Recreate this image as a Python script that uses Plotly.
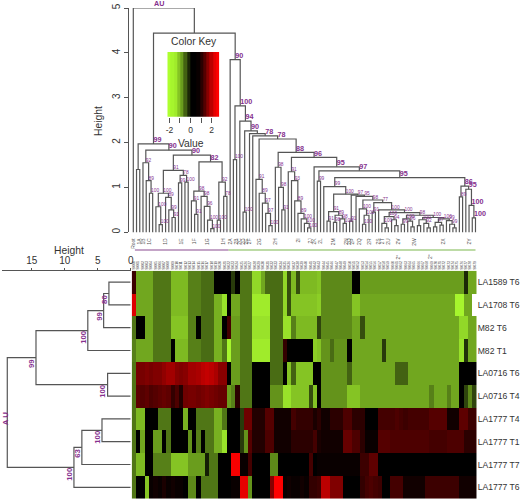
import plotly.graph_objects as go

W, H = 520, 500
FONT = "Liberation Sans"
PURPLE = "#85308E"
LINE = "#555555"

samples = ["LA1589 T6", "LA1708 T6", "M82 T6", "M82 T1", "LA0716 T6",
           "LA0716 T4", "LA1777 T4", "LA1777 T1", "LA1777 T7", "LA1777 T6"]

row_la1589_t6 = [.7,-1.7,-1.7,-1.7,-1.7,-1.2,-1.2,-1.2,-1.2,-1.9,-1.9,-1.9,-1.9,-1.3,-1.3,-1.3,-1.1,-1.1,-1.1,0,0,0,0,-.6,0,-1.2,-1.2,-1.2,-2.2,-2.2,-1.7,-1.1,-1.1,-1.1,-1.1,-2.2,-.8,-1.9,-.8,-1.9,-1.9,-1.9,-1.9,
                 -2.0,-1.4,-1.4,-1.4,-1.4,-1.4,-1.4,-1.4,0,0,-1.6,-1.6,-1.6,-1.6,-1.6,-1.6,-1.6,-1.6,-1.6,-1.6,-1.6,-1.6,-1.6,-1.6,-1.6,-1.6,-1.6,-1.6,-1.6,-1.6,-1.6,-1.6,-1.6,-1.6,-.4,-1.7,-1.7]
row_la1708_t6 = [2.6,-1.7,-1.7,-1.7,-1.7,-1.2,-1.2,-1.2,-1.2,-1.9,-1.9,-1.9,-1.9,-1.3,-1.3,-1.3,-1.1,-1.1,-1.1,-1.8,-1.8,-2.3,0,-1.7,-1.7,-1.2,-1.2,-1.2,-2.4,-2.4,-2.4,-2.4,-1.1,-1.1,-1.1,-2.2,-.8,-2.0,-2.0,-2.0,-2.0,-2.0,-2.0,
                 -2.1,-1.4,-1.4,-1.4,-1.4,-1.4,-1.4,-1.4,-2.0,-2.0,-1.7,-1.7,-1.7,-1.7,-1.7,-1.7,-1.7,-1.7,-1.7,-1.7,-1.7,-1.7,-1.7,-1.7,-1.7,-1.7,-1.7,-1.7,-1.7,-1.7,-1.7,-1.7,-2.5,-2.5,-1.7,-1.7]
row_m82_t6 = [-1.2,0,0,-1.7,-1.7,-1.2,-1.2,-1.2,-1.2,-2.0,-2.0,-2.0,-2.0,-1.3,-1.3,0,-1.1,-1.1,-1.1,-1.8,-1.8,0,.8,-1.6,-1.6,-1.2,-1.2,-1.2,-2.3,-2.3,-2.3,-2.3,-1.1,-1.1,-1.1,-2.3,-2.3,-1.3,-1.9,-1.9,-1.9,-1.9,-1.9,
              -.7,-1.4,-1.4,-1.4,-1.4,-1.4,-1.4,-1.4,-1.7,-1.7,-.8,-1.7,-1.7,-1.7,-1.7,-1.7,-1.7,-1.7,-1.7,-1.7,-1.7,-1.7,-1.7,-1.7,-1.7,-1.7,-1.7,-1.7,-1.7,-1.7,-1.7,-1.7,-1.7,-2.2,-2.2,-1.7,-1.7]
row_m82_t1 = [-1.3,-1.7,-1.7,-1.7,-1.7,-1.2,-1.2,-1.2,-1.2,0,-1.9,-1.9,-1.9,-1.3,-1.3,-1.3,-1.1,-1.1,-1.1,-1.8,-1.8,-1.2,-2.5,-1.6,-1.6,-1.2,-1.2,-1.2,-2.4,-2.4,-2.4,-2.4,-1.1,-1.1,-1.1,.6,0,0,0,0,0,0,-2.1,
              -2.0,-1.5,-1.5,-1.1,-1.5,-1.5,-1.5,0,-1.7,-1.7,-1.7,-1.7,-1.7,-1.7,-1.7,-.6,-1.7,-1.7,-1.7,-1.7,-1.7,-1.7,-1.7,-1.7,-1.7,-1.7,-1.7,-1.7,-1.7,-1.7,-1.7,-1.7,-1.7,-2.3,-.5,-1.7,-1.7]
row_la0716_t6 = [-1.2,1.4,1.4,1.5,1.4,1.5,1.5,1.7,1.9,1.9,1.6,1.5,1.6,1.9,1.9,2.0,2.2,2.3,2.2,2.0,1.6,1.6,0,-1.6,-1.6,-1.2,-1.2,-1.2,0,0,0,0,-1.1,-1.1,-1.1,0,-2.0,-1.0,-2.0,-2.0,-2.0,-2.0,0,
                 0,-1.5,-1.5,-1.5,-1.5,-1.5,-1.5,-1.0,-1.7,-1.7,-1.7,-1.7,-1.7,-1.7,-1.7,-1.7,-1.7,-1.7,-1.0,-1.0,-1.0,-1.7,-1.7,-1.7,-1.7,-1.7,-1.7,-1.7,-1.7,-1.7,-1.7,-1.7,-1.7,0,0,0,0]
row_la0716_t4 = [-1.2,1.1,1.0,1.1,.9,1.0,1.1,1.2,1.1,.6,.9,.4,1.3,1.4,1.4,1.3,1.4,1.5,1.4,1.3,1.2,1.2,-1.6,-1.3,.5,-1.2,-1.2,-1.2,0,0,0,0,-1.5,-1.5,-1.5,-2.3,-2.3,-2.0,-2.0,-2.0,-2.0,-.8,-2.0,
                 0,-1.5,-1.5,-1.5,-1.5,-1.5,-1.5,-2.0,-2.0,-2.0,-1.7,-1.7,-1.7,-1.7,-1.7,-1.7,-1.7,-1.7,-1.7,-1.7,-1.7,-1.7,-1.7,-1.7,-1.7,-1.7,-1.3,-1.7,-1.7,-1.7,-1.3,-1.7,-1.7,0,-.7,-1.4,-.7]
row_la1777_t4 = [-1.2,-1.9,-1.9,0,0,0,-1.2,-1.2,-1.2,0,0,0,-1.8,0,0,-1.2,-1.2,-1.2,-1.2,-1.8,-1.8,-1.2,0,0,0,-.6,1.3,1.3,.4,.4,.4,1.0,1.0,.2,.2,.2,.2,.8,.6,.6,.6,.6,.3,
                 .5,.2,.2,.5,.5,.5,.9,.9,.5,.5,.5,0,0,0,.8,.8,.8,.8,.9,.8,.7,.8,.8,.8,.8,.8,1.0,1.0,1.0,1.0,.2,.2,.2,1.1,1.1,.7,.7]
row_la1777_t1 = [-1.2,0,-1.7,0,0,-1.6,-1.6,0,-1.2,0,0,0,0,-1.5,0,-1.3,0,-1.2,-1.2,-1.8,-1.8,-2.3,0,0,0,-.6,-1.5,1.0,.4,.4,.4,.9,.9,.2,.2,.2,.2,.5,.5,.5,.5,.5,.8,
                 .3,.2,.2,.2,.2,.2,1.2,1.2,.9,.9,.5,.1,.1,.1,1.0,1.0,1.0,.9,.9,.9,.9,.9,.9,.9,.9,.9,.8,.8,.8,.8,.9,.9,.9,.9,.5,.5,.5]
row_la1777_t7 = [-1.2,-1.9,-1.9,0,0,-1.3,-1.3,-1.3,-1.3,-2.0,-2.0,-2.0,-2.0,-1.6,-1.6,-1.6,-1.6,-.3,-1.2,-1.2,0,0,0,2.9,2.9,.1,.1,.8,0,0,0,0,-1.4,-1.4,0,0,0,0,0,0,0,.8,0,
                 .1,.1,.1,.1,.1,.1,.1,.1,.1,.1,.7,.7,1.1,1.1,0,0,0,0,0,0,0,0,0,0,0,0,0,0,0,0,0,0,0,0,0,0,0]
row_la1777_t6 = [-1.2,0,0,-2.0,.1,.2,.1,.3,.1,.2,.1,.1,0,-1.4,-1.4,0,-1.2,-1.2,-1.2,-1.2,0,0,0,.1,.1,2.7,2.7,-1.5,0,0,0,0,1.6,3.0,3.0,.1,.2,.1,.1,.2,.1,.6,.6,
                 .7,2.2,2.2,1.5,1.5,1.5,0,0,0,0,.6,.8,.9,.8,.7,0,0,.8,.8,.8,.2,.2,.2,.2,.2,.7,.7,.7,.7,.7,.7,.7,.7,.2,.2,.2,.2]
heat_rows = [row_la1589_t6, row_la1708_t6, row_m82_t6, row_m82_t1, row_la0716_t6,
             row_la0716_t4, row_la1777_t4, row_la1777_t1, row_la1777_t7, row_la1777_t6]

key_levels = [-2.6,-2.5,-2.4,-2.0,-1.6,-1.0,-.4,0,0,.1,.5,1.0,1.6,2.2,2.7,3.0]
key_edges = [-2.2,-1.89,-1.58,-1.28,-.97,-.66,-.35,-.05,.26,.57,.88,1.18,1.49,1.8,2.11,2.41,2.72]
key_ticks = [-2,-1,0,1,2]
key_tick_text = ["-2","","0","","2"]

height_ticks_top = [0,1,2,3,4,5]
height_ticks_left = [0,5,10,15]


def n(h, a, b, label=""):
    return (h, a, b, label)


L = None
sub_a1 = n(1.4, L, L)
sub_a3 = n(1.55, L, n(1.15, L, n(.87, L, L, "100"), "89"), "92")
sub_a8 = n(.87, n(.57, L, n(.17, L, L, "100"), "100"), n(.78, L, n(.5, L, n(.33, L, L, "91"), "99"), "89"), "100")
sub_a9 = n(1.27, n(1.1, L, L, "99"), n(1.12, L, L, "100"), "78")
sub_a7 = n(1.57,
           n(.92, n(.7, L, n(.4, L, L, "91"), "91"),
             n(.8, L, n(.58, L, n(.27, L, n(.08, L, L, "100"), "100"), "96"), "98"), "98"),
           n(1.12, n(.27, L, L, "100"), n(.8, L, L, "78"), "92"), "82")
sub_a = n(1.97, sub_a1, n(1.83, sub_a3, n(1.72, n(1.38, sub_a8, sub_a9, "91"), sub_a7, "90"), "90"), "99")

sub_hleft = n(1.18, L, n(.87, L, n(.65, L, n(.42, L, n(.15, L, L, "100"), "97"), "97"), "89"), "91")
sub_j = n(1.45, L, n(1.0, L, n(.5, L, L, "91"), "98"), "98")
sub_kleft = n(1.35, L, n(1.15, L, n(.7, L, n(.42, L, n(.3, L, n(.2, L, n(.1, L, L, "100"), "100"), "100"), "89"), "89"), "93"), "91")
sub_s1 = n(.46, n(.25, L, L, "91"), n(.38, n(.22, L, L, "98"), n(.3, L, n(.2, L, L, "100"), "98"), "89"), "91")
sub_tail = n(.5, L,
             n(.44,
               n(.35, n(.2, L, n(.1, L, L), "100"), n(.28, L, n(.15, L, L), "94"), "100"),
               n(.38,
                 n(.3, n(.18, L, L, "99"), n(.25, L, n(.12, L, L), "96"), "100"),
                 n(.33,
                   n(.28, n(.15, L, L), n(.2, L, n(.1, L, L), "92"), "100"),
                   n(.3, n(.22, n(.12, L, L), n(.16, L, L), "97"), n(.26, L, n(.18, L, n(.1, L, L), "99"), "99"), "100"),
                   "100"), "98"), "100"), "100")
sub_v = n(.72, n(.52, L, n(.38, n(.18, L, L, "100"), L, "100"), "100"), n(.66, n(.45, L, L, "91"), sub_tail, "77"), "98")
sub_r = n(1.03, n(.79, L, L, "89"), n(.96, L, n(.6, L, n(.32, L, L, "100"), "100"), "95"), "86")
sub_q = n(1.02, L, n(.85, sub_s1, n(.83, n(.25, L, L, "91"), n(.8, L, sub_v, "95"), "97"), "100"), "99")
sub_p = n(1.46, L, n(1.37, n(1.14, L, L, "99"), n(1.22, sub_q, sub_r, "95"), "97"), "95")
sub_i = n(1.78, sub_j, n(1.67, sub_kleft, sub_p, "96"), "88")
sub_b = n(3.85, L, n(2.82, n(1.62, L, L, "100"),
                     n(2.48, L, n(2.26, n(.45, L, L, "100"),
                                  n(2.2, L, n(2.15, L, n(2.08, sub_hleft, sub_i, "78"), "78")), "90"), "94"), "100"), "90")
tree_top = n(5.0, L, n(4.44, sub_a, sub_b))
emphasised_nodes = [1.97, 1.83, 1.72, 1.57, 3.85, 2.82, 2.48, 2.26, 2.15, 2.08, 1.78, 1.67, 1.46, 1.37, 1.22, 1.03, .96, .6, .32]

leaf_names = ["Root","1A","1B","1C","1D","1E","1F","1G","1H","2A","2B","2C","2D","2E","2F","2G","2H","2I","2J","2K","2L",
              "2M","2N","2O","2P","2Q","2R","2S","2T","2U","2V","2W","2X","2Y"]
leaf_name_index = [0,2,3,5,10,15,19,23,28,30,32,33,34,35,36,39,44,51,55,56,58,62,66,67,68,70,73,76,77,79,82,87,96,104]

left_tree_merges = [(0, 1, 3.3, "80"), ("n0", 2, 4.1, "99"), ("n1", 3, 6.5, "100"), (4, 5, 3.5, "100"),
                    ("n2", "n3", 14.35, "99"), (6, 7, 4.35, "100"), ("n5", 8, 7.4, "63"), ("n6", 9, 8.6, "100"),
                    ("n4", "n7", 18.7, "A U")]

# --- layout helpers, pixel positions -> paper fractions
def px(x): return x / W
def py(y): return 1 - y / H

HEAT_X = (131.7, 476.7)
HEAT_Y = (270.7, 498.7)
TOP_Y = (8.0, 232.3)
LEFT_X = (2.0, 130.7)

# --- walk the top tree
xs, ys, lab_x, lab_y, lab_t, lab_big = [], [], [], [], [], []
counter = [0]
FIRST_LEAF_PX, LAST_LEAF_PX = 133.3, 475.5


def walk(node):
    if node is None:
        i = counter[0]
        counter[0] += 1
        return i, None
    h, a, b, label = node
    ax, at = walk(a)
    bx, bt = walk(b)
    low_a = -0.03 if at is None else at
    low_b = -0.03 if bt is None else bt
    xs.extend([ax, ax, bx, bx, None])
    ys.extend([low_a, h, h, low_b, None])
    c = (ax + bx) / 2
    if label:
        lab_x.append(c); lab_y.append(h); lab_t.append(label)
        lab_big.append(h in emphasised_nodes)
    return c, h


root_c, _ = walk(tree_top)
N = counter[0]
leaf_step = (LAST_LEAF_PX - FIRST_LEAF_PX) / (N - 1)
top_range = [(HEAT_X[0] - FIRST_LEAF_PX) / leaf_step, (N - 1) + (HEAT_X[1] - LAST_LEAF_PX) / leaf_step]

colorscale = [[0, "#ADFF2F"], [2.6 / 5.6, "#000000"], [1, "#FF0000"]]

fig = go.Figure()
n_cols = len(heat_rows[0])
col_labels = [f"Sl{c:03d}" for c in range(n_cols)]

fig.add_trace(go.Heatmap(z=heat_rows, x=list(range(n_cols)), y=list(range(len(samples))),
                         colorscale=colorscale, zmin=-2.6, zmax=3.0, showscale=False,
                         xaxis="x", yaxis="y", hoverinfo="skip"))

fig.add_trace(go.Scatter(x=xs, y=ys, mode="lines", line=dict(color=LINE, width=1.2),
                         xaxis="x2", yaxis="y2", cliponaxis=False, hoverinfo="skip"))
for big in (True, False):
    idx = [i for i, b in enumerate(lab_big) if b == big]
    fig.add_trace(go.Scatter(x=[lab_x[i] for i in idx], y=[lab_y[i] for i in idx],
                             text=[f"<b>{lab_t[i]}</b>" if big else lab_t[i] for i in idx], mode="text",
                             textposition="top right",
                             textfont=dict(family=FONT, size=7.2 if big else 4.8, color=PURPLE),
                             xaxis="x2", yaxis="y2", cliponaxis=False, hoverinfo="skip"))

# left tree
nodes = {}
lx, ly = [], []
annos = []
for k, (a, b, h, label) in enumerate(left_tree_merges):
    ya, ha = (a, 0) if isinstance(a, int) else nodes[a]
    yb, hb = (b, 0) if isinstance(b, int) else nodes[b]
    lx.extend([ha, h, h, hb, None])
    ly.extend([ya, ya, yb, yb, None])
    mid = (ya + yb) / 2
    nodes[f"n{k}"] = (mid, h)
    annos.append(dict(x=h, y=mid, text=f"<b>{label}</b>", xref="x3", yref="y3", showarrow=False, textangle=-90,
                      xanchor="center", yanchor="middle", xshift=-4.5 if label != "A U" else -1.5, yshift=-6,
                      font=dict(family=FONT, size=7.8, color=PURPLE)))
fig.add_trace(go.Scatter(x=lx, y=ly, mode="lines", line=dict(color=LINE, width=1.2),
                         xaxis="x3", yaxis="y3", cliponaxis=False, hoverinfo="skip"))

# colour key
fig.add_trace(go.Heatmap(z=[key_levels], x=key_edges, y=[0, 1], colorscale=colorscale, zmin=-2.6, zmax=3.0,
                         showscale=False, xaxis="x4", yaxis="y4", hoverinfo="skip"))

txt = dict(family=FONT, color="#333333")
paper = dict(xref="paper", yref="paper", showarrow=False, xanchor="center", yanchor="middle")
annos += [
    dict(x=px(194), y=py(42), text="Color Key", font=dict(size=10.3, **txt), **paper),
    dict(x=px(191), y=py(143), text="Value", font=dict(size=10.3, **txt), **paper),
    dict(x=px(98), y=py(121), text="Height", textangle=-90, font=dict(size=10.3, **txt), **paper),
    dict(x=px(69), y=py(250.5), text="Height", font=dict(size=10.3, **txt), **paper),
    dict(x=px(159), y=py(3.5), text="<b>AU</b>", font=dict(family=FONT, size=7.2, color=PURPLE), **paper),
    dict(x=px(397.5), y=py(257), text="2°", textangle=-90, font=dict(family=FONT, size=5, color="#555555"), **paper),
    dict(x=px(430), y=py(257), text="2°", textangle=-90, font=dict(family=FONT, size=5, color="#555555"), **paper),
]

# purple and green group rules under the tree, on the leaf axis
group_split = 29.5
rules = [dict(type="line", xref="x2", yref="paper", x0=0.5, x1=group_split, y0=py(250), y1=py(250),
              line=dict(color="#8A4A90", width=1.2)),
         dict(type="line", xref="x2", yref="paper", x0=group_split, x1=N - 1, y0=py(250), y1=py(250),
              line=dict(color="#7DB84E", width=1.2))]

fig.update_layout(
    width=W, height=H, margin=dict(l=0, r=0, t=0, b=0), paper_bgcolor="white", plot_bgcolor="rgba(0,0,0,0)",
    showlegend=False, annotations=annos, shapes=rules,
    xaxis=dict(domain=[px(HEAT_X[0]), px(HEAT_X[1])], range=[-.5, n_cols - .5], side="top", automargin=False,
               tickvals=list(range(n_cols)), ticktext=col_labels, tickangle=-90, ticks="", showgrid=False, zeroline=False,
               tickfont=dict(family=FONT, size=3.4, color="#444444"), anchor="y"),
    yaxis=dict(domain=[py(HEAT_Y[1]), py(HEAT_Y[0])], range=[len(samples) - .5, -.5], side="right", automargin=False,
               tickvals=list(range(len(samples))), ticktext=samples, ticks="", showgrid=False, zeroline=False,
               tickfont=dict(family=FONT, size=8.6, color="#333333"), anchor="x"),
    xaxis2=dict(domain=[px(HEAT_X[0]), px(HEAT_X[1])], range=top_range, anchor="y2", automargin=False,
                tickvals=leaf_name_index, ticktext=leaf_names, tickangle=-90, ticks="outside", ticklen=3, tickcolor="white",
                showgrid=False, zeroline=False, showline=False,
                tickfont=dict(family=FONT, size=5, color="#555555")),
    yaxis2=dict(domain=[py(TOP_Y[1]), py(TOP_Y[0])], range=[0, 5], anchor="free", position=px(127.7), side="left",
                automargin=False, tickvals=height_ticks_top, ticks="outside", ticklen=4, tickangle=-90, showgrid=False,
                zeroline=False, showline=True, linecolor=LINE, tickcolor=LINE,
                tickfont=dict(family=FONT, size=10, color="#333333")),
    xaxis3=dict(domain=[px(LEFT_X[0]), px(LEFT_X[1])], range=[19.5, 0], anchor="y3", side="top", automargin=False,
                tickvals=height_ticks_left, ticks="outside", ticklen=2, showgrid=False, zeroline=False,
                showline=True, linecolor=LINE, tickcolor=LINE,
                tickfont=dict(family=FONT, size=10, color="#333333")),
    yaxis3=dict(domain=[py(HEAT_Y[1]), py(HEAT_Y[0])], range=[len(samples) - .5, -.5], anchor="x3", automargin=False,
                showticklabels=False, ticks="", showgrid=False, zeroline=False),
    xaxis4=dict(domain=[px(167.3), px(219.3)], range=[key_edges[0], key_edges[-1]], anchor="y4", automargin=False,
                tickvals=key_ticks, ticktext=key_tick_text, ticks="outside", ticklen=5, showgrid=False, zeroline=False,
                tickcolor=LINE, showline=False,
                tickfont=dict(family=FONT, size=8.5, color="#333333")),
    yaxis4=dict(domain=[py(116.7), py(52)], range=[0, 1], anchor="x4", automargin=False, showticklabels=False, ticks="",
                showgrid=False, zeroline=False),
)

fig.write_html("out.html", config=dict(displayModeBar=False),
               post_script="document.body.style.margin='0';document.body.style.overflow='hidden';")
